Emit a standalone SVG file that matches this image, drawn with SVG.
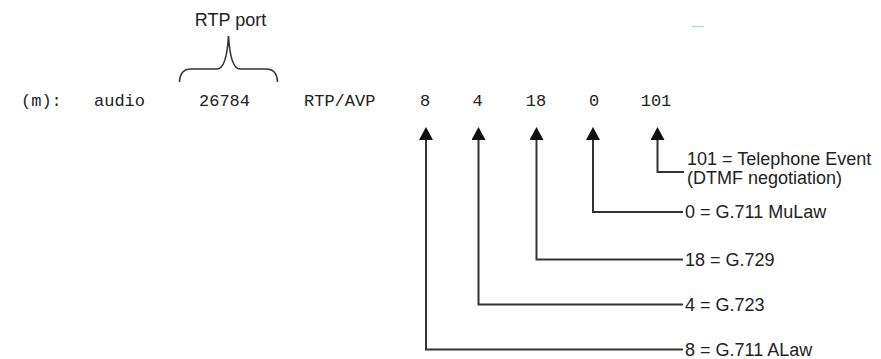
<svg xmlns="http://www.w3.org/2000/svg" width="881" height="359" viewBox="0 0 881 359">
  <style>
    .mono { font-family: "Liberation Mono", "Courier New", monospace; font-size: 17px; fill: #222; }
    .label { font-family: "Liberation Sans", Arial, sans-serif; font-size: 18px; fill: #222; }
    .conn { fill: none; stroke: #333; stroke-width: 2; }
    .brace { fill: none; stroke: #333; stroke-width: 1.6; }
  </style>
  <defs>
    <!-- filled triangular head; tip sits 8px past the line end -->
    <marker id="arrow" markerUnits="userSpaceOnUse" markerWidth="13" markerHeight="14" refX="5" refY="7" orient="auto" viewBox="0 0 13 14">
      <path d="M0,0 L13,7 L0,14 Z" fill="#111"/>
    </marker>
  </defs>
  <rect width="881" height="359" fill="#fff"/>

  <!-- SDP media line -->
  <g id="media-line">
    <text class="mono" x="21" y="105.5">(m):</text>
    <text class="mono" x="94" y="105.5">audio</text>
    <text class="mono" x="199" y="105.5">26784</text>
    <text class="mono" x="304" y="105.5">RTP/AVP</text>
    <text class="mono" x="425" y="105.5" text-anchor="middle">8</text>
    <text class="mono" x="477.5" y="105.5" text-anchor="middle">4</text>
    <text class="mono" x="536" y="105.5" text-anchor="middle">18</text>
    <text class="mono" x="594" y="105.5" text-anchor="middle">0</text>
    <text class="mono" x="656" y="105.5" text-anchor="middle">101</text>
  </g>

  <!-- port annotation -->
  <g id="rtp-port">
    <text class="label" x="230.5" y="26" text-anchor="middle">RTP port</text>
    <path class="brace" d="M179.5,82 Q180,69 191,69 L217,69 Q226.5,69 228.5,36 Q230.5,69 240,69 L266,69 Q277,69 277.5,82"/>
  </g>

  <line x1="692" y1="26.5" x2="704" y2="26.5" stroke="#a8dde8" stroke-width="1.5"/>

  <!-- payload type labels -->
  <g id="pt-101">
    <text class="label" x="687" y="165">101 = Telephone Event</text>
    <text class="label" x="687" y="184">(DTMF negotiation)</text>
  </g>
  <g id="pt-0">
    <text class="label" x="685" y="218">0 = G.711 MuLaw</text>
  </g>
  <g id="pt-18">
    <text class="label" x="685" y="265.5">18 = G.729</text>
  </g>
  <g id="pt-4">
    <text class="label" x="685" y="310.5">4 = G.723</text>
  </g>
  <g id="pt-8">
    <text class="label" x="685" y="355.5">8 = G.711 ALaw</text>
  </g>

  <!-- connectors from labels up to payload numbers -->
  <g id="connectors">
    <path class="conn" d="M684,172 H657.5 V135" marker-end="url(#arrow)"/>
    <path class="conn" d="M683,212 H593 V135" marker-end="url(#arrow)"/>
    <path class="conn" d="M683,259.5 H536.5 V135" marker-end="url(#arrow)"/>
    <path class="conn" d="M683,304.5 H478.5 V135" marker-end="url(#arrow)"/>
    <path class="conn" d="M683,349.5 H426 V135" marker-end="url(#arrow)"/>
  </g>
</svg>
